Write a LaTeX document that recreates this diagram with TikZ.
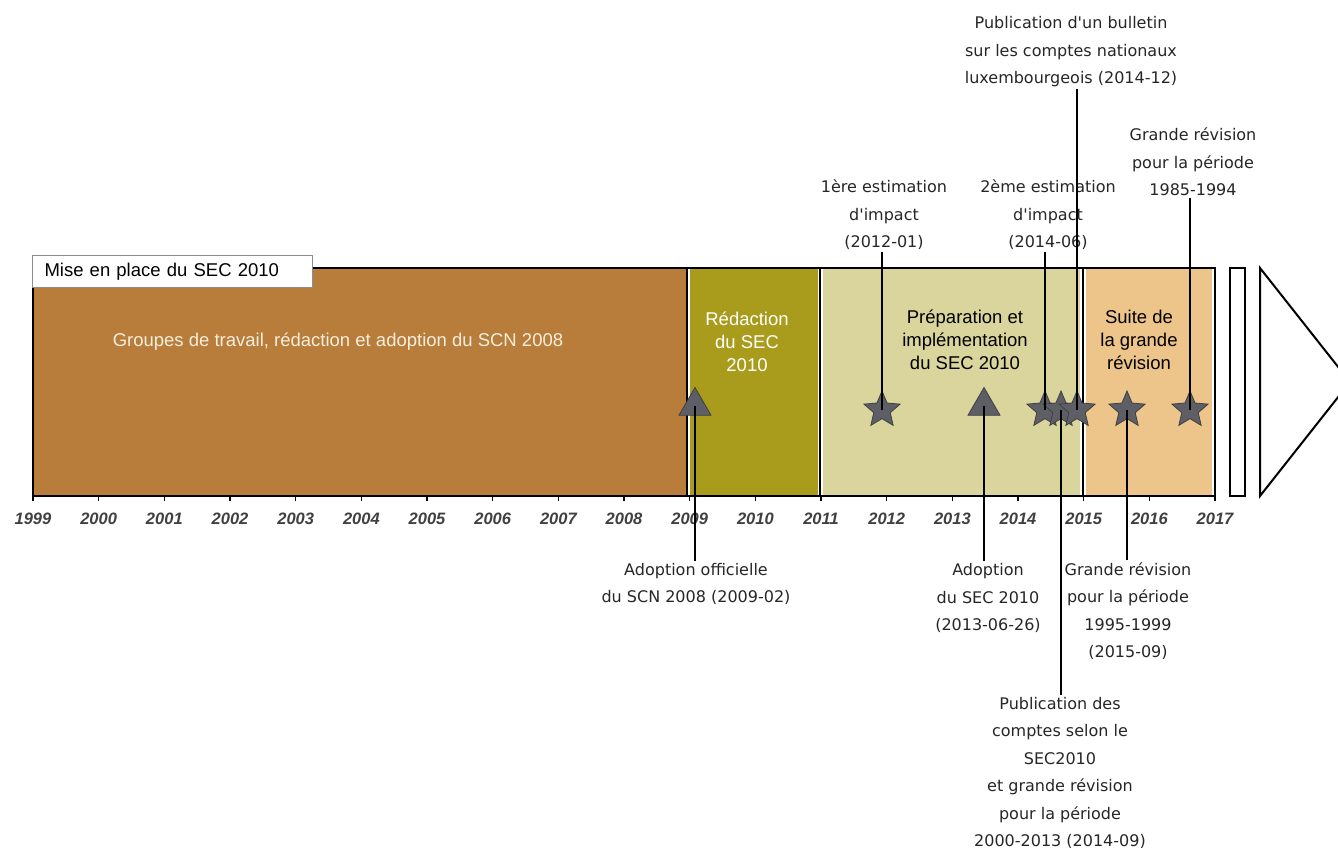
\documentclass[tikz,border=0pt]{standalone}
\usepackage{fontspec}
\setmainfont{Liberation Sans}
\newfontfamily\notefont{DejaVu Sans}
\usetikzlibrary{shapes.geometric}

\definecolor{bandbrown}{HTML}{B87D3A}
\definecolor{bandolive}{HTML}{A99B1B}
\definecolor{bandkhaki}{HTML}{D9D59D}
\definecolor{bandpeach}{HTML}{EDC48A}
\definecolor{evgray}{HTML}{5E5F66}
\definecolor{cream}{HTML}{F6EEDC}

\begin{document}
\begin{tikzpicture}[x=1pt,y=-1pt,
  bandtext/.style={font=\fontsize{18.5}{23}\selectfont, align=center},
  note/.style={font=\notefont\fontsize{16}{27.5}\selectfont, align=center, text=black!85, inner sep=2pt},
  evstar/.style={star, star points=5, star point ratio=2.2, minimum size=38pt, inner sep=0pt,
    fill=evgray, draw=black!75, line width=0.8pt},
  evtri/.style={regular polygon, regular polygon sides=3, minimum size=37pt, inner sep=0pt,
    fill=evgray, draw=black!75, line width=0.8pt},
  link/.style={line width=2pt},
  frame/.style={line width=2pt}]
\useasboundingbox (0,0) rectangle (1338,848);

% periods
\fill[bandbrown] (33,268) rectangle (687,495);
\fill[bandolive] (690,268) rectangle (818,495);
\fill[bandkhaki] (823,268) rectangle (1080,495);
\fill[bandpeach] (1086,268) rectangle (1212,495);
\draw[frame] (33,268) rectangle (1215,496);
\draw[frame] (687,268) -- (687,496);
\draw[frame] (820,268) -- (820,496);
\draw[frame] (1083,268) -- (1083,496);

% axis
\foreach \i in {0,...,18}{
  \pgfmathsetmacro{\xx}{33+\i*65.67}
  \pgfmathtruncatemacro{\yr}{1999+\i}
  \draw[line width=1.5pt] (\xx,496) -- (\xx,501);
  \node[font=\bfseries\itshape\fontsize{16.5}{18}\selectfont, text=black!75] at (\xx,519) {\yr};
}

% end marks
\draw[frame] (1230,268) rectangle (1245,496);
\draw[frame] (1260,268) -- (1350,382) -- (1260,496) -- cycle;

\node[draw=black!45, line width=1pt, fill=white, anchor=north west, minimum height=32pt,
  text width=256pt, inner xsep=12pt, font=\fontsize{18.5}{20}\selectfont] (titre) at (32,255)
  {Mise en place du SEC 2010};

\node[bandtext, text=cream] (groupes) at (338,342)
  {Groupes de travail, rédaction et adoption du SCN 2008};
\node[bandtext, text=white] (redaction) at (747,342) {Rédaction\\du SEC\\2010};
\node[bandtext] (prepa) at (965,340) {Préparation et\\implémentation\\du SEC 2010};
\node[bandtext] (suite) at (1139,340) {Suite de\\la grande\\révision};

% events
\node[evtri] (t1) at (695,406) {};
\node[evstar] (s1) at (882,410) {};
\node[evtri] (t2) at (984,406) {};
\node[evstar] (s2) at (1045,410) {};
\node[evstar] (s3) at (1061,410) {};
\node[evstar] (s4) at (1077,410) {};
\node[evstar] (s5) at (1127,410) {};
\node[evstar] (s6) at (1190,410) {};

% labels
\node[note] (n1) at (884,215) {1ère estimation\\d'impact\\(2012-01)};
\node[note] (n2) at (1048,215) {2ème estimation\\d'impact\\(2014-06)};
\node[note] (n4) at (1071,52) {Publication d'un bulletin\\sur les comptes nationaux\\luxembourgeois (2014-12)};
\node[note] (n6) at (1193,162) {Grande révision\\pour la période\\1985-1994};
\node[note] (m1) at (696,584) {Adoption officielle\\du SCN 2008 (2009-02)};
\node[note] (m2) at (988,598) {Adoption\\du SEC 2010\\(2013-06-26)};
\node[note] (m5) at (1128,611) {Grande révision\\pour la période\\1995-1999\\(2015-09)};
\node[note] (m3) at (1060,773) {Publication des\\comptes selon le\\SEC2010\\et grande révision\\pour la période\\2000-2013 (2014-09)};

% connectors
\draw[link] (n1.south -| s1) -- (s1.center);
\draw[link] (n2.south -| s2) -- (s2.center);
\draw[link] (n4.south -| s4) -- (s4.center);
\draw[link] (n6.south -| s6) -- (s6.center);
\draw[link] (t1.center) -- (m1.north -| t1);
\draw[link] (t2.center) -- (m2.north -| t2);
\draw[link] (s5.center) -- (m5.north -| s5);
\draw[link] (s3.center) -- (m3.north -| s3);
\end{tikzpicture}
\end{document}
